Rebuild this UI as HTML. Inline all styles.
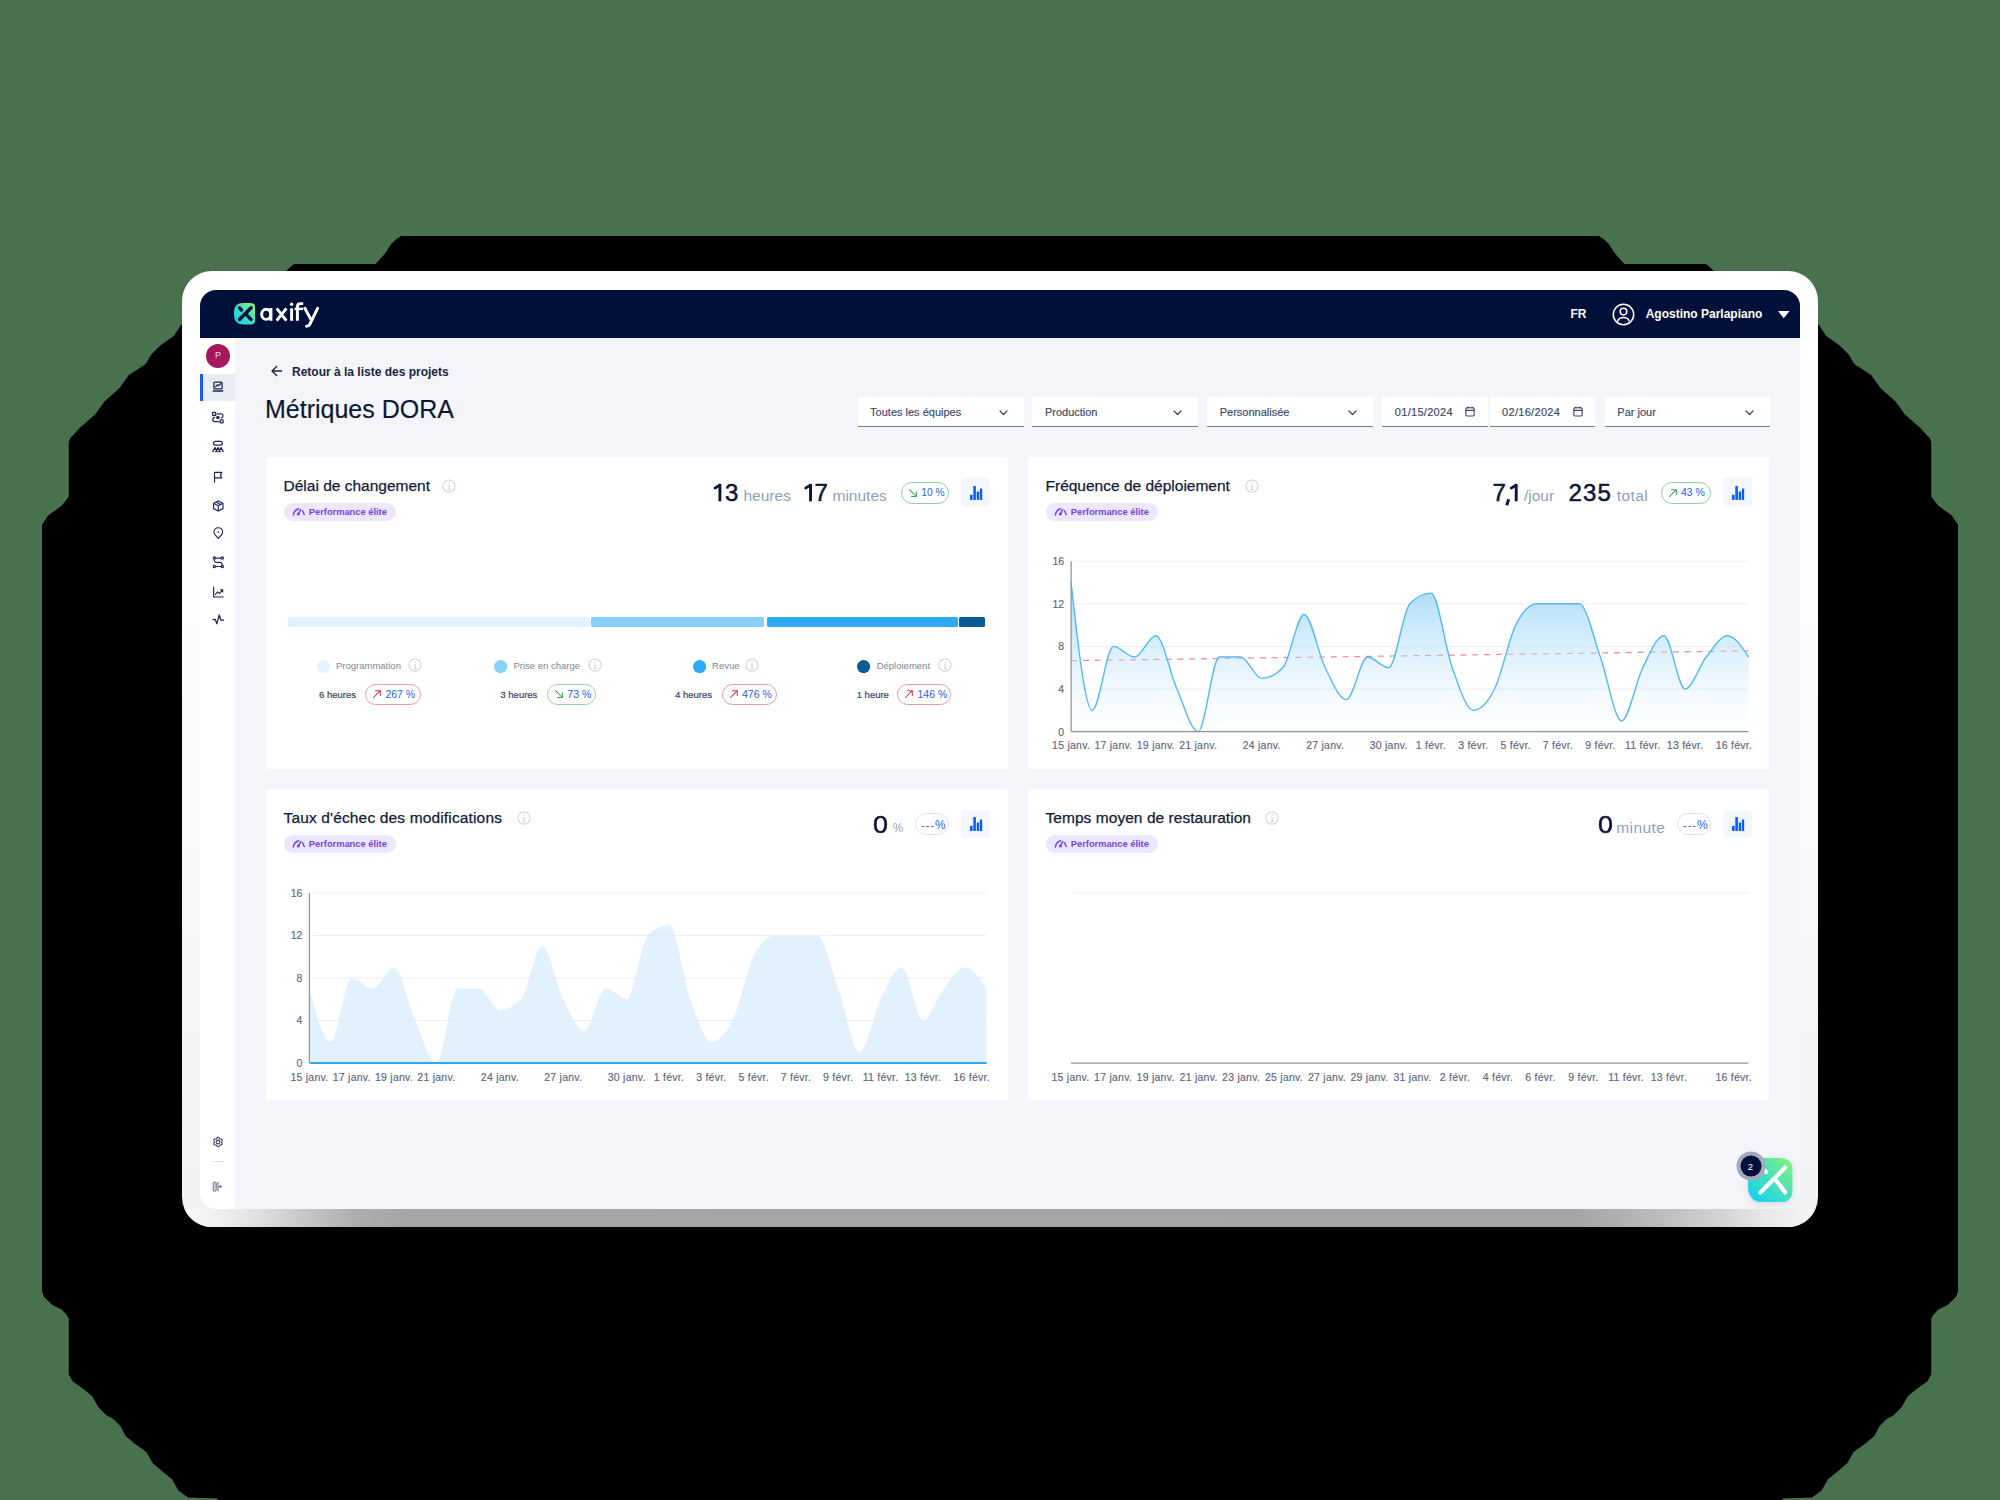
<!DOCTYPE html>
<html><head><meta charset="utf-8">
<style>
*{box-sizing:border-box;margin:0;padding:0}
html,body{width:2000px;height:1500px;overflow:hidden;background:#48714e;font-family:"Liberation Sans",sans-serif;}
.a{position:absolute}
.t{position:absolute;line-height:1;white-space:nowrap}
#shadow{position:absolute;left:0;top:0}
.frame{position:absolute;left:182px;top:271px;width:1636px;height:956px;border-radius:30px;background:linear-gradient(to bottom,#fff 0%,#fdfdfd 35%,#f1f1f1 100%);overflow:hidden}
.fbot{position:absolute;left:0;top:938px;width:1636px;height:18px;background:linear-gradient(to right,#fafafa 0px,#f0f0f0 35px,#e2e2e2 70px,#c8c8c8 120px,#adadad 175px,#a5a5a5 230px,#a4a4a4 1390px,#b8b8b8 1466px,#d0d0d0 1532px,#e8e8e8 1582px,#f6f6f6 1636px)}
.screen{position:absolute;left:200px;top:290px;width:1600px;height:919px;border-radius:16px;background:#f3f5fa;overflow:hidden}
.nav{position:absolute;left:0;top:0;width:1600px;height:48px;background:#01103a}
.side{position:absolute;left:0;top:48px;width:35px;height:871px;background:#fff}
.card{position:absolute;background:#fff;border-radius:3px}
.flt{position:absolute;background:#fff;border-bottom:1px solid #737c9a;top:397px;height:30px}
.pill{position:absolute;border-radius:12px;border:1px solid}
</style></head><body>
<svg id="shadow" width="2000" height="1500"><path d="M1000,236 L401,236 L396,239.6 L391.6,243.6 L389.3,247 L385.6,252.8 L375.6,264 L294,264 L286,271 L220,305 L181.2,324.7 L173.7,335.9 L160.7,345.2 L151.3,354.5 L145.7,363.9 L128.9,375 L119.6,388 L104.7,401.2 L95.3,414.3 L80.4,427.3 L70.1,438.5 L68.8,442.3 L68.8,496.4 L61.7,505.7 L48.7,515 L42,524.4 L42,1291.2 L44,1296.8 L52,1304.8 L61.6,1309.6 L66.4,1314.4 L68.8,1318.4 L68.8,1374.4 L72.8,1381.6 L84,1389.6 L92,1396 L98.4,1407.2 L106.4,1415.2 L112.8,1418.4 L120.8,1426.4 L125.6,1436 L135.2,1444 L146.4,1452 L152.8,1463.2 L164,1472.8 L172,1479.2 L178.4,1490.4 L188,1497.6 L217.6,1498.4 L218,1500 L1000,1500 L1782,1500 L1782.4,1498.4 L1812,1497.6 L1821.6,1490.4 L1828,1479.2 L1836,1472.8 L1847.2,1463.2 L1853.6,1452 L1864.8,1444 L1874.4,1436 L1879.2,1426.4 L1887.2,1418.4 L1893.6,1415.2 L1901.6,1407.2 L1908,1396 L1916,1389.6 L1927.2,1381.6 L1931.2,1374.4 L1931.2,1318.4 L1933.6,1314.4 L1938.4,1309.6 L1948,1304.8 L1956,1296.8 L1958,1291.2 L1958,524.4 L1951.3,515 L1938.3,505.7 L1931.2,496.4 L1931.2,442.3 L1929.9,438.5 L1919.6,427.3 L1904.7,414.3 L1895.3,401.2 L1880.4,388 L1871.1,375 L1854.3,363.9 L1848.7,354.5 L1839.3,345.2 L1826.3,335.9 L1818.8,324.7 L1780,305 L1714,271 L1706,264 L1624.4,264 L1614.4,252.8 L1610.7,247 L1608.4,243.6 L1604,239.6 L1599,236 Z" fill="#000"/></svg>
<div class="frame"><div class="fbot"></div></div>
<div class="screen"><div class="nav"></div><div class="side"></div></div>
<svg class="a" style="left:233.8px;top:303.4px;" width="21.3" height="21.5" viewBox="0 0 21.3 21.5"><defs><linearGradient id="lg" x1="0" y1="1" x2="1" y2="0"><stop offset="0" stop-color="#0fd0f8"/><stop offset="0.5" stop-color="#3fdfc0"/><stop offset="1" stop-color="#8af77a"/></linearGradient></defs>
<path d="M9,0 H16.5 Q21.3,0 21.3,4.8 V16.5 Q21.3,21.5 16.5,21.5 H9.5 Q0,21.5 0,12 V9 Q0,0 9,0 Z" fill="url(#lg)"/>
<g stroke="#01103a" stroke-width="3.4" stroke-linecap="round" fill="none"><path d="M17.1,4.8 L5.5,16.5"/><path d="M11.7,10.9 L16.9,16.4"/><path d="M5.5,4.9 L7.4,7"/></g></svg>
<svg class="a" style="left:0px;top:0px;" width="2000" height="1500" viewBox="0 0 2000 1500"><g fill="none" stroke="#fff" stroke-width="2.95"><ellipse cx="266.2" cy="314.25" rx="4.55" ry="5.1"/><path d="M270.9,308 V320.8"/><path d="M276.7,308.4 L286.4,320.6 M286.4,308.4 L276.7,320.6"/><path d="M291.6,308.3 V320.8"/><path d="M297.4,320.8 V306.6 Q297.4,303.6 300.6,303.6 H303.2"/><path d="M294.6,308.9 H302.9" stroke-width="2.5"/><path d="M304.9,308.3 L311.4,320.4 M317.6,308.3 L309.8,324.3 Q308.9,326.2 306.6,326.2" stroke-linecap="round"/></g><circle cx="291.6" cy="304.3" r="1.7" fill="#fff"/></svg>
<div class="t" style="left:1570.50px;top:308.04px;font-size:12px;color:#ffffff;font-weight:700;">FR</div>
<svg class="a" style="left:1612.2px;top:302.5px;" width="23" height="23" viewBox="0 0 23 23"><g fill="none" stroke="#fff" stroke-width="1.5"><circle cx="11.5" cy="11.5" r="10.2"/><circle cx="11.5" cy="8.6" r="3.3"/><path d="M5.6,18.6 Q6.5,14.6 11.5,14.6 Q16.5,14.6 17.4,18.6"/></g></svg>
<div class="t" style="left:1645.70px;top:308.04px;font-size:12px;color:#ffffff;font-weight:700;">Agostino Parlapiano</div>
<svg class="a" style="left:1777px;top:310px;" width="14" height="9" viewBox="0 0 14 9"><path d="M1,1 H12.5 L6.75,8.2 Z" fill="#fff"/></svg>
<svg class="a" style="left:206px;top:343.5px;" width="24" height="24" viewBox="0 0 24 24"><circle cx="12" cy="12" r="12" fill="#a5185c"/></svg>
<div class="t" style="left:18.00px;width:400px;text-align:center;top:351.38px;font-size:9px;color:#f5d9e6;">P</div>
<div class="a" style="left:200.00px;top:374.00px;width:35.30px;height:27.00px;background:#e9ecf3"></div>
<div class="a" style="left:200.00px;top:374.00px;width:3.00px;height:27.00px;background:#1c5cf5"></div>
<svg class="a" style="left:211.00px;top:380.00px" width="14.00" height="14.00" viewBox="0 0 14 14"><g fill="none" stroke="#1f2a4d" stroke-width="1.3" stroke-linecap="round" stroke-linejoin="round"><rect x="2.9" y="2.2" width="8.2" height="6.6" rx="0.9"/><path d="M2.3,11 H11.7" stroke-width="1.6"/><path d="M4.5,6.8 L6.2,4.8 L7.6,5.8 L9.6,3.8"/></g></svg>
<svg class="a" style="left:211.00px;top:410.60px" width="14.00" height="14.00" viewBox="0 0 14 14"><g fill="none" stroke="#1f2a4d" stroke-width="1.3" stroke-linecap="round" stroke-linejoin="round" stroke-width="1.25"><rect x="1.6" y="1.4" width="3.1" height="3.1" rx="0.6"/><rect x="9.2" y="8.8" width="2.9" height="3" rx="0.6"/><path d="M6.2,2.9 H10.3 Q12,2.9 12,4.8 Q12,6.6 10.5,6.9"/><path d="M3.4,6.7 Q1.8,7 1.8,8.6 Q1.8,10.6 3.7,10.6 H7.7"/></g><circle cx="6.9" cy="6.5" r="1.8" fill="#1f2a4d"/></svg>
<svg class="a" style="left:211.00px;top:440.20px" width="14.00" height="14.00" viewBox="0 0 14 14"><g fill="none" stroke="#1f2a4d" stroke-width="1.3" stroke-linecap="round" stroke-linejoin="round"><rect x="2.6" y="1.4" width="8.8" height="3.8" rx="1.8"/><path d="M1.8,11.6 L4,7.6 L6.2,11.6 M4.8,11.6 L7,7.6 L9.2,11.6 M7.8,11.6 L10,7.6 L12.2,11.6"/></g></svg>
<svg class="a" style="left:211.70px;top:470.50px" width="12.60" height="12.60" viewBox="0 0 14 14"><g fill="none" stroke="#1f2a4d" stroke-width="1.3" stroke-linecap="round" stroke-linejoin="round"><path d="M2.8,12.5 V1.5 H11 L9.2,4.6 L11,7.7 H2.8"/></g></svg>
<svg class="a" style="left:211.70px;top:500.10px" width="12.60" height="12.60" viewBox="0 0 14 14"><g fill="none" stroke="#1f2a4d" stroke-width="1.3" stroke-linecap="round" stroke-linejoin="round"><path d="M7,1 L12.2,3.6 V9.6 L7,12.3 L1.8,9.6 V3.6 Z M1.8,3.6 L7,6.3 L12.2,3.6 M7,6.3 V12.3 M4.4,2.3 L9.6,5"/></g></svg>
<svg class="a" style="left:211.70px;top:526.50px" width="12.60" height="12.60" viewBox="0 0 14 14"><g fill="none" stroke="#1f2a4d" stroke-width="1.3" stroke-linecap="round" stroke-linejoin="round"><path d="M7,12.6 Q2.2,8 2.2,5.6 A4.8,4.8 0 0 1 11.8,5.6 Q11.8,8 7,12.6 Z"/></g><circle cx="7" cy="5.7" r="0.9" fill="#1f2a4d"/></svg>
<svg class="a" style="left:211.70px;top:556.10px" width="12.60" height="12.60" viewBox="0 0 14 14"><g fill="none" stroke="#1f2a4d" stroke-width="1.3" stroke-linecap="round" stroke-linejoin="round"><circle cx="2.6" cy="2.3" r="1.3"/><circle cx="11.4" cy="2.3" r="1.3"/><circle cx="2.6" cy="11.7" r="1.3"/><circle cx="11.4" cy="11.7" r="1.3"/><path d="M3.9,2.3 H10.1 M3.9,11.7 H10.1 M2.6,3.6 Q2.6,7 5,7 H9 Q11.4,7 11.4,10.4"/></g></svg>
<svg class="a" style="left:211.70px;top:585.70px" width="12.60" height="12.60" viewBox="0 0 14 14"><g fill="none" stroke="#1f2a4d" stroke-width="1.3" stroke-linecap="round" stroke-linejoin="round"><path d="M1.8,1.2 V12.2 H12.6 M3.8,9.4 L6.3,6.6 L8.3,8.2 L11.8,4.6 M9.6,4.4 H11.9 V6.6"/></g></svg>
<svg class="a" style="left:211.70px;top:612.90px" width="12.60" height="12.60" viewBox="0 0 14 14"><g fill="none" stroke="#1f2a4d" stroke-width="1.3" stroke-linecap="round" stroke-linejoin="round"><path d="M1.2,7.6 L3.4,6.8 L5.4,12 L8,2.2 L9.8,7.8 L12.8,7.8" stroke-width="1.4"/></g></svg>
<svg class="a" style="left:210.9px;top:1134.9px;" width="14" height="14" viewBox="0 0 14 14"><g fill="none" stroke="#36415f" stroke-width="1.1" stroke-linejoin="round"><path d="M7.00,2.25 L7.31,2.31 L7.60,2.46 L7.85,2.70 L8.07,2.99 L8.26,3.29 L8.43,3.56 L8.59,3.78 L8.78,3.93 L9.00,4.01 L9.27,4.04 L9.58,4.05 L9.93,4.07 L10.29,4.11 L10.63,4.22 L10.91,4.39 L11.11,4.62 L11.22,4.92 L11.23,5.25 L11.15,5.59 L11.01,5.93 L10.85,6.24 L10.69,6.51 L10.59,6.76 L10.55,7.00 L10.59,7.24 L10.69,7.49 L10.85,7.76 L11.01,8.07 L11.15,8.41 L11.23,8.75 L11.22,9.08 L11.11,9.38 L10.91,9.61 L10.63,9.78 L10.29,9.89 L9.93,9.93 L9.58,9.95 L9.27,9.96 L9.00,9.99 L8.78,10.07 L8.59,10.22 L8.43,10.44 L8.26,10.71 L8.07,11.01 L7.85,11.30 L7.60,11.54 L7.31,11.69 L7.00,11.75 L6.69,11.69 L6.40,11.54 L6.15,11.30 L5.93,11.01 L5.74,10.71 L5.57,10.44 L5.41,10.22 L5.23,10.07 L5.00,9.99 L4.73,9.96 L4.42,9.95 L4.07,9.93 L3.71,9.89 L3.37,9.78 L3.09,9.61 L2.89,9.38 L2.78,9.08 L2.77,8.75 L2.85,8.41 L2.99,8.07 L3.15,7.76 L3.31,7.49 L3.41,7.24 L3.45,7.00 L3.41,6.76 L3.31,6.51 L3.15,6.24 L2.99,5.93 L2.85,5.59 L2.77,5.25 L2.78,4.92 L2.89,4.62 L3.09,4.39 L3.37,4.22 L3.71,4.11 L4.07,4.07 L4.42,4.05 L4.73,4.04 L5.00,4.01 L5.22,3.93 L5.41,3.78 L5.57,3.56 L5.74,3.29 L5.93,2.99 L6.15,2.70 L6.40,2.46 L6.69,2.31 L7.00,2.25 Z"/><circle cx="7" cy="7" r="1.9"/></g></svg>
<div class="a" style="left:212.00px;top:1161.00px;width:11.60px;height:1.00px;background:#dfe3ea"></div>
<svg class="a" style="left:212px;top:1180.5px;" width="11" height="11" viewBox="0 0 11 11"><rect x="1.2" y="1" width="3" height="9.2" rx="1.2" fill="#d3d7e0" stroke="#5a6480" stroke-width="0.9"/><path d="M6,0.8 V10.4" stroke="#5a6480" stroke-width="1"/><path d="M6.5,5.6 H9.2 M8,4.2 L9.6,5.6 L8,7" stroke="#5a6480" stroke-width="1" fill="none"/></svg>
<svg class="a" style="left:270px;top:364px;" width="14" height="14" viewBox="0 0 14 14"><path d="M11.6,7 H2.2 M6.6,2.4 L2,7 L6.6,11.6" fill="none" stroke="#1b2440" stroke-width="1.4" stroke-linecap="round" stroke-linejoin="round"/></svg>
<div class="t" style="left:292.00px;top:365.64px;font-size:12px;color:#1b2440;font-weight:700;">Retour à la liste des projets</div>
<div class="t" style="left:265.00px;top:397.34px;font-size:25px;color:#0d1733;-webkit-text-stroke:0.15px #0d1733;">Métriques DORA</div>
<div class="flt" style="left:857.6px;width:166.0px"></div>
<div class="t" style="left:870.10px;top:406.79px;font-size:11px;color:#3b4566;-webkit-text-stroke:0.15px #3b4566;">Toutes les équipes</div>
<svg class="a" style="left:998.6px;top:409.5px;" width="9" height="6" viewBox="0 0 9 6"><path d="M1,1 L4.5,4.5 L8,1" fill="none" stroke="#3b4566" stroke-width="1.2" stroke-linecap="round" stroke-linejoin="round"/></svg>
<div class="flt" style="left:1032.4px;width:166.0px"></div>
<div class="t" style="left:1044.90px;top:406.79px;font-size:11px;color:#3b4566;-webkit-text-stroke:0.15px #3b4566;">Production</div>
<svg class="a" style="left:1173.4px;top:409.5px;" width="9" height="6" viewBox="0 0 9 6"><path d="M1,1 L4.5,4.5 L8,1" fill="none" stroke="#3b4566" stroke-width="1.2" stroke-linecap="round" stroke-linejoin="round"/></svg>
<div class="flt" style="left:1207.2px;width:166.0px"></div>
<div class="t" style="left:1219.70px;top:406.79px;font-size:11px;color:#3b4566;-webkit-text-stroke:0.15px #3b4566;">Personnalisée</div>
<svg class="a" style="left:1348.2px;top:409.5px;" width="9" height="6" viewBox="0 0 9 6"><path d="M1,1 L4.5,4.5 L8,1" fill="none" stroke="#3b4566" stroke-width="1.2" stroke-linecap="round" stroke-linejoin="round"/></svg>
<div class="flt" style="left:1382.3px;width:105.6px"></div>
<div class="t" style="left:1394.80px;top:406.79px;font-size:11px;color:#3b4566;-webkit-text-stroke:0.15px #3b4566;letter-spacing:0.3px;">01/15/2024</div>
<svg class="a" style="left:1465.4px;top:406.3px;" width="10" height="11" viewBox="0 0 10 11"><g fill="none" stroke="#3b4566" stroke-width="1.1"><rect x="0.8" y="1.8" width="8.4" height="8.2" rx="1.2"/><path d="M0.8,4.4 H9.2 M3,0.6 V2.6 M7,0.6 V2.6"/></g></svg>
<div class="flt" style="left:1489.6px;width:105.6px"></div>
<div class="t" style="left:1502.10px;top:406.79px;font-size:11px;color:#3b4566;-webkit-text-stroke:0.15px #3b4566;letter-spacing:0.3px;">02/16/2024</div>
<svg class="a" style="left:1572.7px;top:406.3px;" width="10" height="11" viewBox="0 0 10 11"><g fill="none" stroke="#3b4566" stroke-width="1.1"><rect x="0.8" y="1.8" width="8.4" height="8.2" rx="1.2"/><path d="M0.8,4.4 H9.2 M3,0.6 V2.6 M7,0.6 V2.6"/></g></svg>
<div class="flt" style="left:1604.8px;width:165.1px"></div>
<div class="t" style="left:1617.30px;top:406.79px;font-size:11px;color:#3b4566;-webkit-text-stroke:0.15px #3b4566;">Par jour</div>
<svg class="a" style="left:1744.9px;top:409.5px;" width="9" height="6" viewBox="0 0 9 6"><path d="M1,1 L4.5,4.5 L8,1" fill="none" stroke="#3b4566" stroke-width="1.2" stroke-linecap="round" stroke-linejoin="round"/></svg>
<div class="card" style="left:266px;top:457px;width:742px;height:312px"></div>
<div class="card" style="left:1028px;top:457px;width:741px;height:312px"></div>
<div class="card" style="left:266px;top:789px;width:742px;height:311px"></div>
<div class="card" style="left:1028px;top:789px;width:741px;height:311px"></div>
<div class="t" style="left:283.50px;top:478.08px;font-size:15.5px;color:#101a37;-webkit-text-stroke:0.25px #101a37;letter-spacing:0.0px;">Délai de changement</div>
<svg class="a" style="left:441.9px;top:479.0px;" width="14" height="14" viewBox="0 0 14 14"><circle cx="7" cy="7" r="6.1" fill="none" stroke="#cdd2dc" stroke-width="1.05"/><path d="M7.2,6.3 V10.4 M5.6,10.4 H8.8 M6.1,6.3 H7.2" stroke="#cdd2dc" stroke-width="1.05" fill="none"/><circle cx="7.1" cy="4.1" r="0.75" fill="#cdd2dc"/></svg>
<div class="a" style="left:283.50px;top:503.30px;width:112.10px;height:17.30px;background:#ece7fd;border-radius:9px"></div>
<svg class="a" style="left:292px;top:507px;" width="13" height="10" viewBox="0 0 13 10"><g fill="none" stroke="#7046ec" stroke-linecap="round"><path d="M1.4,8 Q1.9,3.4 6.5,1.8" stroke-width="1.5"/><path d="M6.6,6.6 L8.7,2.6" stroke-width="1.5"/><path d="M10.5,3.7 L12.3,7.6" stroke-width="1.4"/></g><circle cx="6.3" cy="6.9" r="1.5" fill="#7046ec"/></svg>
<div class="t" style="left:308.80px;top:507.53px;font-size:9.3px;color:#7444e8;font-weight:700;">Performance élite</div>
<svg class="a" style="left:0px;top:0px;" width="2000" height="1500" viewBox="0 0 2000 1500"><g stroke="#0b1535" fill="none"><path d="M719.9,483.9 V501.3" stroke-width="2.9"/><path d="M719.3,485.3 L715.0,488.1" stroke-width="2.8" stroke-linecap="round"/></g></svg>
<div class="t" style="left:725.00px;top:481.18px;font-size:24px;color:#0b1535;-webkit-text-stroke:0.5px #0b1535;">3</div>
<div class="t" style="left:743.50px;top:488.38px;font-size:15.5px;color:#8d9fc0;">heures</div>
<svg class="a" style="left:0px;top:0px;" width="2000" height="1500" viewBox="0 0 2000 1500"><g stroke="#0b1535" fill="none"><path d="M810.55,483.9 V501.3" stroke-width="2.9"/><path d="M809.9499999999999,485.3 L805.65,488.1" stroke-width="2.8" stroke-linecap="round"/></g></svg>
<div class="t" style="left:814.60px;top:481.18px;font-size:24px;color:#0b1535;-webkit-text-stroke:0.5px #0b1535;">7</div>
<div class="t" style="left:832.50px;top:488.38px;font-size:15.5px;color:#8d9fc0;">minutes</div>
<div class="pill" style="left:900.8px;top:481.6px;width:48.3px;height:22.0px;border-color:#93d3a2;border-radius:11.0px"></div>
<svg class="a" style="left:907.8px;top:487.6px;" width="10" height="10" viewBox="0 0 10 10"><path d="M1.5,1.7 L8.3,8.5 M3.6,8.5 H8.3 V3.8" fill="none" stroke="#35a35a" stroke-width="1.05" stroke-linecap="round" stroke-linejoin="round"/></svg>
<div class="t" style="left:921.30px;top:487.62px;font-size:10.2px;color:#1f63f0;">10 %</div>
<div class="a" style="left:961.10px;top:478.10px;width:29.20px;height:28.80px;background:#f3f6fd;border-radius:4px"></div>
<svg class="a" style="left:969.8px;top:485.5px;" width="13" height="14" viewBox="0 0 13 14"><g fill="#0a5cf5"><rect x="0" y="8.7" width="2.6" height="5.2" rx="0.6"/><rect x="3.3" y="0" width="2.6" height="13.9" rx="0.6"/><rect x="6.7" y="5.5" width="2.4" height="8.4" rx="0.6"/><rect x="9.8" y="2.4" width="2.4" height="11.5" rx="0.6"/></g></svg>
<div class="t" style="left:1045.50px;top:478.08px;font-size:15.5px;color:#101a37;-webkit-text-stroke:0.25px #101a37;letter-spacing:0.0px;">Fréquence de déploiement</div>
<svg class="a" style="left:1244.7px;top:479.0px;" width="14" height="14" viewBox="0 0 14 14"><circle cx="7" cy="7" r="6.1" fill="none" stroke="#cdd2dc" stroke-width="1.05"/><path d="M7.2,6.3 V10.4 M5.6,10.4 H8.8 M6.1,6.3 H7.2" stroke="#cdd2dc" stroke-width="1.05" fill="none"/><circle cx="7.1" cy="4.1" r="0.75" fill="#cdd2dc"/></svg>
<div class="a" style="left:1045.50px;top:503.30px;width:112.10px;height:17.30px;background:#ece7fd;border-radius:9px"></div>
<svg class="a" style="left:1054px;top:507px;" width="13" height="10" viewBox="0 0 13 10"><g fill="none" stroke="#7046ec" stroke-linecap="round"><path d="M1.4,8 Q1.9,3.4 6.5,1.8" stroke-width="1.5"/><path d="M6.6,6.6 L8.7,2.6" stroke-width="1.5"/><path d="M10.5,3.7 L12.3,7.6" stroke-width="1.4"/></g><circle cx="6.3" cy="6.9" r="1.5" fill="#7046ec"/></svg>
<div class="t" style="left:1070.80px;top:507.53px;font-size:9.3px;color:#7444e8;font-weight:700;">Performance élite</div>
<div class="t" style="left:1492.60px;top:480.98px;font-size:24px;color:#0b1535;-webkit-text-stroke:0.5px #0b1535;">7</div>
<svg class="a" style="left:0px;top:0px;" width="2000" height="1500" viewBox="0 0 2000 1500"><g stroke="#0b1535" fill="none"><path d="M1516.2,483.9 V501.3" stroke-width="2.9"/><path d="M1515.6000000000001,485.3 L1511.3,488.1" stroke-width="2.8" stroke-linecap="round"/></g></svg>
<svg class="a" style="left:0px;top:0px;" width="2000" height="1500" viewBox="0 0 2000 1500"><path d="M1508.7,499.2 L1506.7,505.2" stroke="#0b1535" stroke-width="2.9" fill="none"/></svg>
<div class="t" style="left:1524.00px;top:488.18px;font-size:15.5px;color:#8d9fc0;">/jour</div>
<div class="t" style="left:1568.50px;top:480.98px;font-size:24px;color:#0b1535;letter-spacing:1.2px;-webkit-text-stroke:0.5px #0b1535;">235</div>
<div class="t" style="left:1616.80px;top:488.18px;font-size:15.5px;color:#8d9fc0;letter-spacing:0.4px;">total</div>
<div class="pill" style="left:1660.5px;top:481.6px;width:50.3px;height:22.0px;border-color:#93d3a2;border-radius:11.0px"></div>
<svg class="a" style="left:1667.5px;top:487.6px;" width="10" height="10" viewBox="0 0 10 10"><path d="M1.5,8.5 L8.3,1.7 M3.6,1.7 H8.3 V6.4" fill="none" stroke="#35a35a" stroke-width="1.05" stroke-linecap="round" stroke-linejoin="round"/></svg>
<div class="t" style="left:1681.00px;top:487.47px;font-size:10.5px;color:#1f63f0;">43 %</div>
<div class="a" style="left:1722.90px;top:478.10px;width:29.20px;height:28.80px;background:#f3f6fd;border-radius:4px"></div>
<svg class="a" style="left:1731.6px;top:485.5px;" width="13" height="14" viewBox="0 0 13 14"><g fill="#0a5cf5"><rect x="0" y="8.7" width="2.6" height="5.2" rx="0.6"/><rect x="3.3" y="0" width="2.6" height="13.9" rx="0.6"/><rect x="6.7" y="5.5" width="2.4" height="8.4" rx="0.6"/><rect x="9.8" y="2.4" width="2.4" height="11.5" rx="0.6"/></g></svg>
<div class="t" style="left:283.50px;top:810.08px;font-size:15.5px;color:#101a37;-webkit-text-stroke:0.25px #101a37;letter-spacing:0.15px;">Taux d'échec des modifications</div>
<svg class="a" style="left:517.3px;top:811.0px;" width="14" height="14" viewBox="0 0 14 14"><circle cx="7" cy="7" r="6.1" fill="none" stroke="#cdd2dc" stroke-width="1.05"/><path d="M7.2,6.3 V10.4 M5.6,10.4 H8.8 M6.1,6.3 H7.2" stroke="#cdd2dc" stroke-width="1.05" fill="none"/><circle cx="7.1" cy="4.1" r="0.75" fill="#cdd2dc"/></svg>
<div class="a" style="left:283.50px;top:835.30px;width:112.10px;height:17.30px;background:#ece7fd;border-radius:9px"></div>
<svg class="a" style="left:292px;top:839px;" width="13" height="10" viewBox="0 0 13 10"><g fill="none" stroke="#7046ec" stroke-linecap="round"><path d="M1.4,8 Q1.9,3.4 6.5,1.8" stroke-width="1.5"/><path d="M6.6,6.6 L8.7,2.6" stroke-width="1.5"/><path d="M10.5,3.7 L12.3,7.6" stroke-width="1.4"/></g><circle cx="6.3" cy="6.9" r="1.5" fill="#7046ec"/></svg>
<div class="t" style="left:308.80px;top:839.53px;font-size:9.3px;color:#7444e8;font-weight:700;">Performance élite</div>
<div class="t" style="left:873.40px;top:812.68px;font-size:24px;color:#0b1535;transform:scaleX(1.12);transform-origin:0 0;-webkit-text-stroke:0.5px #0b1535;">0</div>
<div class="t" style="left:892.60px;top:822.42px;font-size:12.5px;color:#8d9fc0;transform:scaleX(0.92);transform-origin:0 0;">%</div>
<div class="pill" style="left:915.4px;top:812.6px;width:33.5px;height:22.2px;border-color:#dde1ea;border-radius:11.1px"></div>
<div class="t" style="left:921.20px;top:818.57px;font-size:10.5px;color:#1f63f0;"><span style="letter-spacing:1.1px">---</span><span style="font-size:12px">%</span></div>
<div class="a" style="left:961.00px;top:809.60px;width:29.20px;height:28.80px;background:#f3f6fd;border-radius:4px"></div>
<svg class="a" style="left:969.7px;top:817.0px;" width="13" height="14" viewBox="0 0 13 14"><g fill="#0a5cf5"><rect x="0" y="8.7" width="2.6" height="5.2" rx="0.6"/><rect x="3.3" y="0" width="2.6" height="13.9" rx="0.6"/><rect x="6.7" y="5.5" width="2.4" height="8.4" rx="0.6"/><rect x="9.8" y="2.4" width="2.4" height="11.5" rx="0.6"/></g></svg>
<div class="t" style="left:1045.50px;top:810.08px;font-size:15.5px;color:#101a37;-webkit-text-stroke:0.25px #101a37;letter-spacing:0.05px;">Temps moyen de restauration</div>
<svg class="a" style="left:1265.3px;top:811.0px;" width="14" height="14" viewBox="0 0 14 14"><circle cx="7" cy="7" r="6.1" fill="none" stroke="#cdd2dc" stroke-width="1.05"/><path d="M7.2,6.3 V10.4 M5.6,10.4 H8.8 M6.1,6.3 H7.2" stroke="#cdd2dc" stroke-width="1.05" fill="none"/><circle cx="7.1" cy="4.1" r="0.75" fill="#cdd2dc"/></svg>
<div class="a" style="left:1045.50px;top:835.30px;width:112.10px;height:17.30px;background:#ece7fd;border-radius:9px"></div>
<svg class="a" style="left:1054px;top:839px;" width="13" height="10" viewBox="0 0 13 10"><g fill="none" stroke="#7046ec" stroke-linecap="round"><path d="M1.4,8 Q1.9,3.4 6.5,1.8" stroke-width="1.5"/><path d="M6.6,6.6 L8.7,2.6" stroke-width="1.5"/><path d="M10.5,3.7 L12.3,7.6" stroke-width="1.4"/></g><circle cx="6.3" cy="6.9" r="1.5" fill="#7046ec"/></svg>
<div class="t" style="left:1070.80px;top:839.53px;font-size:9.3px;color:#7444e8;font-weight:700;">Performance élite</div>
<div class="t" style="left:1598.20px;top:812.68px;font-size:24px;color:#0b1535;transform:scaleX(1.12);transform-origin:0 0;-webkit-text-stroke:0.5px #0b1535;">0</div>
<div class="t" style="left:1616.30px;top:820.18px;font-size:15.5px;color:#8d9fc0;letter-spacing:0.4px;">minute</div>
<div class="pill" style="left:1677.3px;top:812.6px;width:33.6px;height:22.2px;border-color:#dde1ea;border-radius:11.1px"></div>
<div class="t" style="left:1683.10px;top:818.57px;font-size:10.5px;color:#1f63f0;"><span style="letter-spacing:1.1px">---</span><span style="font-size:12px">%</span></div>
<div class="a" style="left:1722.90px;top:809.60px;width:29.20px;height:28.80px;background:#f3f6fd;border-radius:4px"></div>
<svg class="a" style="left:1731.6px;top:817.0px;" width="13" height="14" viewBox="0 0 13 14"><g fill="#0a5cf5"><rect x="0" y="8.7" width="2.6" height="5.2" rx="0.6"/><rect x="3.3" y="0" width="2.6" height="13.9" rx="0.6"/><rect x="6.7" y="5.5" width="2.4" height="8.4" rx="0.6"/><rect x="9.8" y="2.4" width="2.4" height="11.5" rx="0.6"/></g></svg>
<div class="a" style="left:287.70px;top:616.50px;width:301.90px;height:10.80px;background:#e3f3fd;border-radius:1.5px"></div>
<div class="a" style="left:591.40px;top:616.50px;width:172.90px;height:10.80px;background:#88d0fa;border-radius:1.5px"></div>
<div class="a" style="left:766.50px;top:616.50px;width:191.00px;height:10.80px;background:#2ea9f5;border-radius:1.5px"></div>
<div class="a" style="left:959.30px;top:616.50px;width:26.10px;height:10.80px;background:#0c5c98;border-radius:1.5px"></div>
<svg class="a" style="left:316.9px;top:659.6px;" width="13.2" height="13.2" viewBox="0 0 13.2 13.2"><circle cx="6.6" cy="6.6" r="6.6" fill="#e3f3fd"/></svg>
<div class="t" style="left:336.00px;top:661.26px;font-size:9.5px;color:#7a859e;">Programmation</div>
<svg class="a" style="left:408.2px;top:658.4px;" width="14" height="14" viewBox="0 0 14 14"><circle cx="7" cy="7" r="6.1" fill="none" stroke="#cdd2dc" stroke-width="1.05"/><path d="M7.2,6.3 V10.4 M5.6,10.4 H8.8 M6.1,6.3 H7.2" stroke="#cdd2dc" stroke-width="1.05" fill="none"/><circle cx="7.1" cy="4.1" r="0.75" fill="#cdd2dc"/></svg>
<div class="t" style="left:319.00px;top:689.96px;font-size:9.5px;color:#38435f;-webkit-text-stroke:0.2px #38435f;">6 heures</div>
<div class="pill" style="left:364.9px;top:683.8px;width:55.8px;height:21.0px;border-color:#ea9aa3;border-radius:10.5px"></div>
<svg class="a" style="left:371.9px;top:689.3px;" width="10" height="10" viewBox="0 0 10 10"><path d="M1.5,8.5 L8.3,1.7 M3.6,1.7 H8.3 V6.4" fill="none" stroke="#d4325a" stroke-width="1.05" stroke-linecap="round" stroke-linejoin="round"/></svg>
<div class="t" style="left:385.40px;top:689.17px;font-size:10.5px;color:#1f63f0;">267 %</div>
<svg class="a" style="left:494.4px;top:659.6px;" width="13.2" height="13.2" viewBox="0 0 13.2 13.2"><circle cx="6.6" cy="6.6" r="6.6" fill="#88d0fa"/></svg>
<div class="t" style="left:513.50px;top:661.26px;font-size:9.5px;color:#7a859e;">Prise en charge</div>
<svg class="a" style="left:587.5px;top:658.4px;" width="14" height="14" viewBox="0 0 14 14"><circle cx="7" cy="7" r="6.1" fill="none" stroke="#cdd2dc" stroke-width="1.05"/><path d="M7.2,6.3 V10.4 M5.6,10.4 H8.8 M6.1,6.3 H7.2" stroke="#cdd2dc" stroke-width="1.05" fill="none"/><circle cx="7.1" cy="4.1" r="0.75" fill="#cdd2dc"/></svg>
<div class="t" style="left:500.40px;top:689.96px;font-size:9.5px;color:#38435f;-webkit-text-stroke:0.2px #38435f;">3 heures</div>
<div class="pill" style="left:546.8px;top:683.8px;width:49.0px;height:21.0px;border-color:#93d3a2;border-radius:10.5px"></div>
<svg class="a" style="left:553.8px;top:689.3px;" width="10" height="10" viewBox="0 0 10 10"><path d="M1.5,1.7 L8.3,8.5 M3.6,8.5 H8.3 V3.8" fill="none" stroke="#35a35a" stroke-width="1.05" stroke-linecap="round" stroke-linejoin="round"/></svg>
<div class="t" style="left:567.30px;top:689.17px;font-size:10.5px;color:#1f63f0;">73 %</div>
<svg class="a" style="left:692.9px;top:659.6px;" width="13.2" height="13.2" viewBox="0 0 13.2 13.2"><circle cx="6.6" cy="6.6" r="6.6" fill="#2ea9f5"/></svg>
<div class="t" style="left:712.10px;top:661.26px;font-size:9.5px;color:#7a859e;">Revue</div>
<svg class="a" style="left:745.1px;top:658.4px;" width="14" height="14" viewBox="0 0 14 14"><circle cx="7" cy="7" r="6.1" fill="none" stroke="#cdd2dc" stroke-width="1.05"/><path d="M7.2,6.3 V10.4 M5.6,10.4 H8.8 M6.1,6.3 H7.2" stroke="#cdd2dc" stroke-width="1.05" fill="none"/><circle cx="7.1" cy="4.1" r="0.75" fill="#cdd2dc"/></svg>
<div class="t" style="left:675.10px;top:689.96px;font-size:9.5px;color:#38435f;-webkit-text-stroke:0.2px #38435f;">4 heures</div>
<div class="pill" style="left:721.5px;top:683.8px;width:55.5px;height:21.0px;border-color:#ea9aa3;border-radius:10.5px"></div>
<svg class="a" style="left:728.5px;top:689.3px;" width="10" height="10" viewBox="0 0 10 10"><path d="M1.5,8.5 L8.3,1.7 M3.6,1.7 H8.3 V6.4" fill="none" stroke="#d4325a" stroke-width="1.05" stroke-linecap="round" stroke-linejoin="round"/></svg>
<div class="t" style="left:742.00px;top:689.17px;font-size:10.5px;color:#1f63f0;">476 %</div>
<svg class="a" style="left:857.4px;top:659.6px;" width="13.2" height="13.2" viewBox="0 0 13.2 13.2"><circle cx="6.6" cy="6.6" r="6.6" fill="#0c5c98"/></svg>
<div class="t" style="left:876.70px;top:661.26px;font-size:9.5px;color:#7a859e;">Déploiement</div>
<svg class="a" style="left:938.0px;top:658.4px;" width="14" height="14" viewBox="0 0 14 14"><circle cx="7" cy="7" r="6.1" fill="none" stroke="#cdd2dc" stroke-width="1.05"/><path d="M7.2,6.3 V10.4 M5.6,10.4 H8.8 M6.1,6.3 H7.2" stroke="#cdd2dc" stroke-width="1.05" fill="none"/><circle cx="7.1" cy="4.1" r="0.75" fill="#cdd2dc"/></svg>
<div class="t" style="left:856.70px;top:689.96px;font-size:9.5px;color:#38435f;-webkit-text-stroke:0.2px #38435f;">1 heure</div>
<div class="pill" style="left:897px;top:683.8px;width:54.3px;height:21.0px;border-color:#ea9aa3;border-radius:10.5px"></div>
<svg class="a" style="left:904px;top:689.3px;" width="10" height="10" viewBox="0 0 10 10"><path d="M1.5,8.5 L8.3,1.7 M3.6,1.7 H8.3 V6.4" fill="none" stroke="#d4325a" stroke-width="1.05" stroke-linecap="round" stroke-linejoin="round"/></svg>
<div class="t" style="left:917.50px;top:689.17px;font-size:10.5px;color:#1f63f0;">146 %</div>
<svg class="a" style="left:0;top:0" width="2000" height="1500"><defs><linearGradient id="ag" x1="0" y1="0" x2="0" y2="1"><stop offset="0" stop-color="#8fd0f8" stop-opacity="0.78"/><stop offset="1" stop-color="#d8effd" stop-opacity="0.05"/></linearGradient></defs><path d="M1074.1,689.00 H1748.6" stroke="#eceef5" stroke-width="1"/><path d="M1074.1,646.40 H1748.6" stroke="#eceef5" stroke-width="1"/><path d="M1074.1,603.80 H1748.6" stroke="#eceef5" stroke-width="1"/><path d="M1074.1,561.20 H1748.6" stroke="#eceef5" stroke-width="1"/><path d="M1071.1,660.66 L1748.6,650.86" stroke="#ee8a92" stroke-width="1.2" stroke-dasharray="6,5.8"/><path d="M1071.10,582.50 C1078.16,646.40 1085.21,710.30 1092.27,710.30 C1099.33,710.30 1106.39,646.40 1113.44,646.40 C1120.50,646.40 1127.56,657.05 1134.62,657.05 C1141.67,657.05 1148.73,635.75 1155.79,635.75 C1162.84,635.75 1169.90,673.02 1176.96,689.00 C1184.02,704.98 1191.07,731.60 1198.13,731.60 C1205.19,731.60 1212.25,657.05 1219.30,657.05 C1226.36,657.05 1233.42,657.05 1240.47,657.05 C1247.53,657.05 1254.59,678.35 1261.65,678.35 C1268.70,678.35 1275.76,674.80 1282.82,667.70 C1289.88,660.60 1296.93,614.45 1303.99,614.45 C1311.05,614.45 1318.11,653.50 1325.16,667.70 C1332.22,681.90 1339.28,699.65 1346.33,699.65 C1353.39,699.65 1360.45,657.05 1367.51,657.05 C1374.56,657.05 1381.62,667.70 1388.68,667.70 C1395.74,667.70 1402.79,610.90 1409.85,603.80 C1416.91,596.70 1423.96,593.15 1431.02,593.15 C1438.08,593.15 1445.14,648.18 1452.19,667.70 C1459.25,687.23 1466.31,710.30 1473.37,710.30 C1480.42,710.30 1487.48,703.20 1494.54,689.00 C1501.59,674.80 1508.65,639.30 1515.71,625.10 C1522.77,610.90 1529.82,603.80 1536.88,603.80 C1543.94,603.80 1551.00,603.80 1558.05,603.80 C1565.11,603.80 1572.17,603.80 1579.22,603.80 C1586.28,603.80 1593.34,637.53 1600.40,657.05 C1607.45,676.58 1614.51,720.95 1621.57,720.95 C1628.63,720.95 1635.68,681.90 1642.74,667.70 C1649.80,653.50 1656.86,635.75 1663.91,635.75 C1670.97,635.75 1678.03,689.00 1685.08,689.00 C1692.14,689.00 1699.20,665.93 1706.26,657.05 C1713.31,648.18 1720.37,635.75 1727.43,635.75 C1734.49,635.75 1741.54,646.40 1748.60,657.05 L1748.60,731.60 L1071.10,731.60 Z" fill="url(#ag)"/><path d="M1071.10,582.50 C1078.16,646.40 1085.21,710.30 1092.27,710.30 C1099.33,710.30 1106.39,646.40 1113.44,646.40 C1120.50,646.40 1127.56,657.05 1134.62,657.05 C1141.67,657.05 1148.73,635.75 1155.79,635.75 C1162.84,635.75 1169.90,673.02 1176.96,689.00 C1184.02,704.98 1191.07,731.60 1198.13,731.60 C1205.19,731.60 1212.25,657.05 1219.30,657.05 C1226.36,657.05 1233.42,657.05 1240.47,657.05 C1247.53,657.05 1254.59,678.35 1261.65,678.35 C1268.70,678.35 1275.76,674.80 1282.82,667.70 C1289.88,660.60 1296.93,614.45 1303.99,614.45 C1311.05,614.45 1318.11,653.50 1325.16,667.70 C1332.22,681.90 1339.28,699.65 1346.33,699.65 C1353.39,699.65 1360.45,657.05 1367.51,657.05 C1374.56,657.05 1381.62,667.70 1388.68,667.70 C1395.74,667.70 1402.79,610.90 1409.85,603.80 C1416.91,596.70 1423.96,593.15 1431.02,593.15 C1438.08,593.15 1445.14,648.18 1452.19,667.70 C1459.25,687.23 1466.31,710.30 1473.37,710.30 C1480.42,710.30 1487.48,703.20 1494.54,689.00 C1501.59,674.80 1508.65,639.30 1515.71,625.10 C1522.77,610.90 1529.82,603.80 1536.88,603.80 C1543.94,603.80 1551.00,603.80 1558.05,603.80 C1565.11,603.80 1572.17,603.80 1579.22,603.80 C1586.28,603.80 1593.34,637.53 1600.40,657.05 C1607.45,676.58 1614.51,720.95 1621.57,720.95 C1628.63,720.95 1635.68,681.90 1642.74,667.70 C1649.80,653.50 1656.86,635.75 1663.91,635.75 C1670.97,635.75 1678.03,689.00 1685.08,689.00 C1692.14,689.00 1699.20,665.93 1706.26,657.05 C1713.31,648.18 1720.37,635.75 1727.43,635.75 C1734.49,635.75 1741.54,646.40 1748.60,657.05" fill="none" stroke="#55b9f2" stroke-width="1.4"/><path d="M1071.10,561.20 V731.60" stroke="#8f939e" stroke-width="1.25"/><path d="M1071.10,731.60 H1748.60" stroke="#8f939e" stroke-width="1.25"/></svg>
<div class="t" style="left:664.10px;width:400px;text-align:right;top:726.51px;font-size:10.5px;color:#5c6680;-webkit-text-stroke:0.15px #5c6680;">0</div>
<div class="t" style="left:664.10px;width:400px;text-align:right;top:683.91px;font-size:10.5px;color:#5c6680;-webkit-text-stroke:0.15px #5c6680;">4</div>
<div class="t" style="left:664.10px;width:400px;text-align:right;top:641.31px;font-size:10.5px;color:#5c6680;-webkit-text-stroke:0.15px #5c6680;">8</div>
<div class="t" style="left:664.10px;width:400px;text-align:right;top:598.71px;font-size:10.5px;color:#5c6680;-webkit-text-stroke:0.15px #5c6680;">12</div>
<div class="t" style="left:664.10px;width:400px;text-align:right;top:556.11px;font-size:10.5px;color:#5c6680;-webkit-text-stroke:0.15px #5c6680;">16</div>
<div class="t" style="left:871.10px;width:400px;text-align:center;top:739.91px;font-size:10.5px;color:#5c6680;letter-spacing:0.25px;-webkit-text-stroke:0.15px #5c6680;">15 janv.</div>
<div class="t" style="left:913.44px;width:400px;text-align:center;top:739.91px;font-size:10.5px;color:#5c6680;letter-spacing:0.25px;-webkit-text-stroke:0.15px #5c6680;">17 janv.</div>
<div class="t" style="left:955.79px;width:400px;text-align:center;top:739.91px;font-size:10.5px;color:#5c6680;letter-spacing:0.25px;-webkit-text-stroke:0.15px #5c6680;">19 janv.</div>
<div class="t" style="left:998.13px;width:400px;text-align:center;top:739.91px;font-size:10.5px;color:#5c6680;letter-spacing:0.25px;-webkit-text-stroke:0.15px #5c6680;">21 janv.</div>
<div class="t" style="left:1061.65px;width:400px;text-align:center;top:739.91px;font-size:10.5px;color:#5c6680;letter-spacing:0.25px;-webkit-text-stroke:0.15px #5c6680;">24 janv.</div>
<div class="t" style="left:1125.16px;width:400px;text-align:center;top:739.91px;font-size:10.5px;color:#5c6680;letter-spacing:0.25px;-webkit-text-stroke:0.15px #5c6680;">27 janv.</div>
<div class="t" style="left:1188.68px;width:400px;text-align:center;top:739.91px;font-size:10.5px;color:#5c6680;letter-spacing:0.25px;-webkit-text-stroke:0.15px #5c6680;">30 janv.</div>
<div class="t" style="left:1231.02px;width:400px;text-align:center;top:739.91px;font-size:10.5px;color:#5c6680;letter-spacing:0.25px;-webkit-text-stroke:0.15px #5c6680;">1 févr.</div>
<div class="t" style="left:1273.37px;width:400px;text-align:center;top:739.91px;font-size:10.5px;color:#5c6680;letter-spacing:0.25px;-webkit-text-stroke:0.15px #5c6680;">3 févr.</div>
<div class="t" style="left:1315.71px;width:400px;text-align:center;top:739.91px;font-size:10.5px;color:#5c6680;letter-spacing:0.25px;-webkit-text-stroke:0.15px #5c6680;">5 févr.</div>
<div class="t" style="left:1358.05px;width:400px;text-align:center;top:739.91px;font-size:10.5px;color:#5c6680;letter-spacing:0.25px;-webkit-text-stroke:0.15px #5c6680;">7 févr.</div>
<div class="t" style="left:1400.40px;width:400px;text-align:center;top:739.91px;font-size:10.5px;color:#5c6680;letter-spacing:0.25px;-webkit-text-stroke:0.15px #5c6680;">9 févr.</div>
<div class="t" style="left:1442.74px;width:400px;text-align:center;top:739.91px;font-size:10.5px;color:#5c6680;letter-spacing:0.25px;-webkit-text-stroke:0.15px #5c6680;">11 févr.</div>
<div class="t" style="left:1485.08px;width:400px;text-align:center;top:739.91px;font-size:10.5px;color:#5c6680;letter-spacing:0.25px;-webkit-text-stroke:0.15px #5c6680;">13 févr.</div>
<div class="t" style="left:1352.10px;width:400px;text-align:right;top:739.91px;font-size:10.5px;color:#5c6680;letter-spacing:0.25px;-webkit-text-stroke:0.15px #5c6680;">16 févr.</div>
<svg class="a" style="left:0;top:0" width="2000" height="1500"><defs><linearGradient id="ag" x1="0" y1="0" x2="0" y2="1"><stop offset="0" stop-color="#8fd0f8" stop-opacity="0.78"/><stop offset="1" stop-color="#d8effd" stop-opacity="0.05"/></linearGradient></defs><path d="M312.4,1020.54 H986.4" stroke="#eceef5" stroke-width="1"/><path d="M312.4,977.98 H986.4" stroke="#eceef5" stroke-width="1"/><path d="M312.4,935.42 H986.4" stroke="#eceef5" stroke-width="1"/><path d="M312.4,892.86 H986.4" stroke="#eceef5" stroke-width="1"/><path d="M309.40,988.62 C316.45,1015.22 323.50,1041.82 330.56,1041.82 C337.61,1041.82 344.66,977.98 351.71,977.98 C358.76,977.98 365.82,988.62 372.87,988.62 C379.92,988.62 386.97,967.34 394.02,967.34 C401.08,967.34 408.13,1004.58 415.18,1020.54 C422.23,1036.50 429.29,1063.10 436.34,1063.10 C443.39,1063.10 450.44,988.62 457.49,988.62 C464.55,988.62 471.60,988.62 478.65,988.62 C485.70,988.62 492.75,1009.90 499.81,1009.90 C506.86,1009.90 513.91,1006.35 520.96,999.26 C528.01,992.17 535.07,946.06 542.12,946.06 C549.17,946.06 556.22,985.07 563.27,999.26 C570.33,1013.45 577.38,1031.18 584.43,1031.18 C591.48,1031.18 598.54,988.62 605.59,988.62 C612.64,988.62 619.69,999.26 626.74,999.26 C633.80,999.26 640.85,942.51 647.90,935.42 C654.95,928.33 662.00,924.78 669.06,924.78 C676.11,924.78 683.16,979.75 690.21,999.26 C697.26,1018.77 704.32,1041.82 711.37,1041.82 C718.42,1041.82 725.47,1034.73 732.52,1020.54 C739.58,1006.35 746.63,970.89 753.68,956.70 C760.73,942.51 767.79,935.42 774.84,935.42 C781.89,935.42 788.94,935.42 795.99,935.42 C803.05,935.42 810.10,935.42 817.15,935.42 C824.20,935.42 831.25,969.11 838.31,988.62 C845.36,1008.13 852.41,1052.46 859.46,1052.46 C866.51,1052.46 873.57,1013.45 880.62,999.26 C887.67,985.07 894.72,967.34 901.77,967.34 C908.83,967.34 915.88,1020.54 922.93,1020.54 C929.98,1020.54 937.04,997.49 944.09,988.62 C951.14,979.75 958.19,967.34 965.24,967.34 C972.30,967.34 979.35,977.98 986.40,988.62 L986.40,1063.10 L309.40,1063.10 Z" fill="#cfe8fc" fill-opacity="0.62"/><path d="M309.40,892.86 V1063.10" stroke="#8f939e" stroke-width="1.25"/><path d="M309.40,1063.10 H986.40" stroke="#8f939e" stroke-width="1.25"/><path d="M310.40,1062.90 H986.40" stroke="#28a8f5" stroke-width="2"/></svg>
<div class="t" style="left:-97.60px;width:400px;text-align:right;top:1058.01px;font-size:10.5px;color:#5c6680;-webkit-text-stroke:0.15px #5c6680;">0</div>
<div class="t" style="left:-97.60px;width:400px;text-align:right;top:1015.45px;font-size:10.5px;color:#5c6680;-webkit-text-stroke:0.15px #5c6680;">4</div>
<div class="t" style="left:-97.60px;width:400px;text-align:right;top:972.89px;font-size:10.5px;color:#5c6680;-webkit-text-stroke:0.15px #5c6680;">8</div>
<div class="t" style="left:-97.60px;width:400px;text-align:right;top:930.33px;font-size:10.5px;color:#5c6680;-webkit-text-stroke:0.15px #5c6680;">12</div>
<div class="t" style="left:-97.60px;width:400px;text-align:right;top:887.77px;font-size:10.5px;color:#5c6680;-webkit-text-stroke:0.15px #5c6680;">16</div>
<div class="t" style="left:109.40px;width:400px;text-align:center;top:1071.91px;font-size:10.5px;color:#5c6680;letter-spacing:0.25px;-webkit-text-stroke:0.15px #5c6680;">15 janv.</div>
<div class="t" style="left:151.71px;width:400px;text-align:center;top:1071.91px;font-size:10.5px;color:#5c6680;letter-spacing:0.25px;-webkit-text-stroke:0.15px #5c6680;">17 janv.</div>
<div class="t" style="left:194.02px;width:400px;text-align:center;top:1071.91px;font-size:10.5px;color:#5c6680;letter-spacing:0.25px;-webkit-text-stroke:0.15px #5c6680;">19 janv.</div>
<div class="t" style="left:236.34px;width:400px;text-align:center;top:1071.91px;font-size:10.5px;color:#5c6680;letter-spacing:0.25px;-webkit-text-stroke:0.15px #5c6680;">21 janv.</div>
<div class="t" style="left:299.81px;width:400px;text-align:center;top:1071.91px;font-size:10.5px;color:#5c6680;letter-spacing:0.25px;-webkit-text-stroke:0.15px #5c6680;">24 janv.</div>
<div class="t" style="left:363.27px;width:400px;text-align:center;top:1071.91px;font-size:10.5px;color:#5c6680;letter-spacing:0.25px;-webkit-text-stroke:0.15px #5c6680;">27 janv.</div>
<div class="t" style="left:426.74px;width:400px;text-align:center;top:1071.91px;font-size:10.5px;color:#5c6680;letter-spacing:0.25px;-webkit-text-stroke:0.15px #5c6680;">30 janv.</div>
<div class="t" style="left:469.06px;width:400px;text-align:center;top:1071.91px;font-size:10.5px;color:#5c6680;letter-spacing:0.25px;-webkit-text-stroke:0.15px #5c6680;">1 févr.</div>
<div class="t" style="left:511.37px;width:400px;text-align:center;top:1071.91px;font-size:10.5px;color:#5c6680;letter-spacing:0.25px;-webkit-text-stroke:0.15px #5c6680;">3 févr.</div>
<div class="t" style="left:553.68px;width:400px;text-align:center;top:1071.91px;font-size:10.5px;color:#5c6680;letter-spacing:0.25px;-webkit-text-stroke:0.15px #5c6680;">5 févr.</div>
<div class="t" style="left:595.99px;width:400px;text-align:center;top:1071.91px;font-size:10.5px;color:#5c6680;letter-spacing:0.25px;-webkit-text-stroke:0.15px #5c6680;">7 févr.</div>
<div class="t" style="left:638.31px;width:400px;text-align:center;top:1071.91px;font-size:10.5px;color:#5c6680;letter-spacing:0.25px;-webkit-text-stroke:0.15px #5c6680;">9 févr.</div>
<div class="t" style="left:680.62px;width:400px;text-align:center;top:1071.91px;font-size:10.5px;color:#5c6680;letter-spacing:0.25px;-webkit-text-stroke:0.15px #5c6680;">11 févr.</div>
<div class="t" style="left:722.93px;width:400px;text-align:center;top:1071.91px;font-size:10.5px;color:#5c6680;letter-spacing:0.25px;-webkit-text-stroke:0.15px #5c6680;">13 févr.</div>
<div class="t" style="left:589.90px;width:400px;text-align:right;top:1071.91px;font-size:10.5px;color:#5c6680;letter-spacing:0.25px;-webkit-text-stroke:0.15px #5c6680;">16 févr.</div>
<svg class="a" style="left:0;top:0" width="2000" height="1500"><defs><linearGradient id="ag" x1="0" y1="0" x2="0" y2="1"><stop offset="0" stop-color="#8fd0f8" stop-opacity="0.78"/><stop offset="1" stop-color="#d8effd" stop-opacity="0.05"/></linearGradient></defs><path d="M1073.8,892.86 H1748.4" stroke="#eceef5" stroke-width="1"/><path d="M1070.80,1063.10 H1748.40" stroke="#8f939e" stroke-width="1.25"/></svg>
<div class="t" style="left:870.50px;width:400px;text-align:center;top:1071.91px;font-size:10.5px;color:#5c6680;letter-spacing:0.25px;-webkit-text-stroke:0.15px #5c6680;">15 janv.</div>
<div class="t" style="left:913.10px;width:400px;text-align:center;top:1071.91px;font-size:10.5px;color:#5c6680;letter-spacing:0.25px;-webkit-text-stroke:0.15px #5c6680;">17 janv.</div>
<div class="t" style="left:955.60px;width:400px;text-align:center;top:1071.91px;font-size:10.5px;color:#5c6680;letter-spacing:0.25px;-webkit-text-stroke:0.15px #5c6680;">19 janv.</div>
<div class="t" style="left:998.60px;width:400px;text-align:center;top:1071.91px;font-size:10.5px;color:#5c6680;letter-spacing:0.25px;-webkit-text-stroke:0.15px #5c6680;">21 janv.</div>
<div class="t" style="left:1041.10px;width:400px;text-align:center;top:1071.91px;font-size:10.5px;color:#5c6680;letter-spacing:0.25px;-webkit-text-stroke:0.15px #5c6680;">23 janv.</div>
<div class="t" style="left:1084.00px;width:400px;text-align:center;top:1071.91px;font-size:10.5px;color:#5c6680;letter-spacing:0.25px;-webkit-text-stroke:0.15px #5c6680;">25 janv.</div>
<div class="t" style="left:1127.00px;width:400px;text-align:center;top:1071.91px;font-size:10.5px;color:#5c6680;letter-spacing:0.25px;-webkit-text-stroke:0.15px #5c6680;">27 janv.</div>
<div class="t" style="left:1169.50px;width:400px;text-align:center;top:1071.91px;font-size:10.5px;color:#5c6680;letter-spacing:0.25px;-webkit-text-stroke:0.15px #5c6680;">29 janv.</div>
<div class="t" style="left:1212.50px;width:400px;text-align:center;top:1071.91px;font-size:10.5px;color:#5c6680;letter-spacing:0.25px;-webkit-text-stroke:0.15px #5c6680;">31 janv.</div>
<div class="t" style="left:1255.00px;width:400px;text-align:center;top:1071.91px;font-size:10.5px;color:#5c6680;letter-spacing:0.25px;-webkit-text-stroke:0.15px #5c6680;">2 févr.</div>
<div class="t" style="left:1298.00px;width:400px;text-align:center;top:1071.91px;font-size:10.5px;color:#5c6680;letter-spacing:0.25px;-webkit-text-stroke:0.15px #5c6680;">4 févr.</div>
<div class="t" style="left:1340.50px;width:400px;text-align:center;top:1071.91px;font-size:10.5px;color:#5c6680;letter-spacing:0.25px;-webkit-text-stroke:0.15px #5c6680;">6 févr.</div>
<div class="t" style="left:1383.50px;width:400px;text-align:center;top:1071.91px;font-size:10.5px;color:#5c6680;letter-spacing:0.25px;-webkit-text-stroke:0.15px #5c6680;">9 févr.</div>
<div class="t" style="left:1426.00px;width:400px;text-align:center;top:1071.91px;font-size:10.5px;color:#5c6680;letter-spacing:0.25px;-webkit-text-stroke:0.15px #5c6680;">11 févr.</div>
<div class="t" style="left:1469.00px;width:400px;text-align:center;top:1071.91px;font-size:10.5px;color:#5c6680;letter-spacing:0.25px;-webkit-text-stroke:0.15px #5c6680;">13 févr.</div>
<div class="t" style="left:1351.90px;width:400px;text-align:right;top:1071.91px;font-size:10.5px;color:#5c6680;letter-spacing:0.25px;-webkit-text-stroke:0.15px #5c6680;">16 févr.</div>
<svg class="a" style="left:1748.4px;top:1157.6px;filter:drop-shadow(0 2px 3px rgba(0,0,0,0.12))" width="44.4" height="44.4" viewBox="0 0 44.4 44.4"><defs><linearGradient id="fg" x1="0" y1="1" x2="1" y2="0"><stop offset="0" stop-color="#0fd0f8"/><stop offset="0.55" stop-color="#4ae0b8"/><stop offset="1" stop-color="#88f577"/></linearGradient></defs>
<path d="M14,0 H32 Q44.4,0 44.4,12 V32 Q44.4,44.4 32,44.4 H16 Q0,44.4 0,28 V14 Q0,0 14,0 Z" fill="url(#fg)"/>
<g stroke="#fff" stroke-width="4.2" stroke-linecap="round" fill="none"><path d="M37.2,9.6 L12.4,34.4"/><path d="M26.6,20.6 L37.2,34.4"/><path d="M16,11.8 L18,14"/></g></svg>
<svg class="a" style="left:1735.5px;top:1151px;" width="30" height="30" viewBox="0 0 30 30"><circle cx="15" cy="15" r="14.5" fill="#a5a9b9"/><circle cx="15" cy="15" r="10.5" fill="#01103a"/></svg>
<div class="t" style="left:1550.50px;width:400px;text-align:center;top:1161.96px;font-size:9.5px;color:#ffffff;">2</div>
</body></html>
